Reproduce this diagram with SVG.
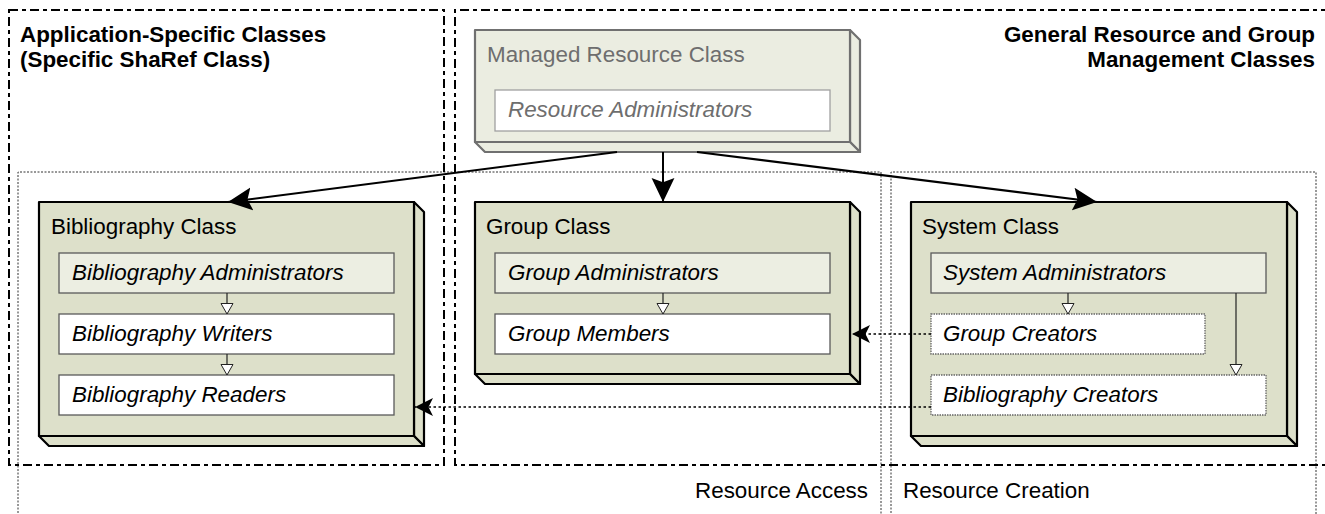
<svg xmlns="http://www.w3.org/2000/svg" width="1325" height="514" viewBox="0 0 1325 514">
  <style>
    text { font-family: "Liberation Sans", Arial, sans-serif; font-size: 22.4px; fill: #000; }
    .head { font-weight: bold; }
    .role { font-style: italic; }
    .muted { fill: #6e6e6e; }
    .zone { fill: none; stroke: #000; stroke-width: 2; stroke-dasharray: 9 4 4 4; }
    .lane { fill: none; stroke: #333; stroke-width: 1; stroke-dasharray: 2 1.5; }
    .face { fill: #dde0ca; stroke: #000; stroke-width: 2.2; stroke-linejoin: round; }
    .face-soft { fill: #ebede1; stroke: #707070; stroke-width: 2.2; stroke-linejoin: round; }
    .box-admin { fill: #eceee2; stroke: #5a5a5a; stroke-width: 1.3; }
    .box-plain { fill: #fff; stroke: #5a5a5a; stroke-width: 1.3; }
    .box-soft { fill: #fff; stroke: #a0a0a0; stroke-width: 1.3; }
    .box-dot { fill: #fff; stroke: #666; stroke-width: 1.3; stroke-dasharray: 1.5 1; }
    .assoc { fill: none; stroke: #000; stroke-width: 2; }
    .dep { fill: none; stroke: #000; stroke-width: 1.6; stroke-dasharray: 2.5 2.5; }
    .inherit { fill: none; stroke: #222; stroke-width: 1.2; }
  </style>
  <defs>
    <marker id="solidHead" markerUnits="userSpaceOnUse" markerWidth="24" markerHeight="24" viewBox="0 0 22 22" refX="22" refY="11" orient="auto">
      <path d="M0,0.5 L22,11 L0,21.5 L4,11 Z" fill="#000"/>
    </marker>
    <marker id="depHead" markerUnits="userSpaceOnUse" markerWidth="18" markerHeight="18" viewBox="0 0 16 16" refX="16" refY="8" orient="auto">
      <path d="M0,0 L16,8 L0,16 L4,8 Z" fill="#000"/>
    </marker>
    <marker id="openHead" markerUnits="userSpaceOnUse" markerWidth="14" markerHeight="14" viewBox="0 0 12 14" refX="11" refY="6.5" orient="auto">
      <path d="M0.5,0.5 L11,6.5 L0.5,12.5 Z" fill="#fff" stroke="#222" stroke-width="1"/>
    </marker>
  </defs>

  <!-- lanes: resource access / resource creation -->
  <g id="lanes">
    <path class="lane" d="M18,520 V172 H881 V520"/>
    <path class="lane" d="M891,520 V172 H1316 V520"/>
    <text x="868" y="498" text-anchor="end">Resource Access</text>
    <text x="903" y="498">Resource Creation</text>
  </g>

  <!-- package zones -->
  <g id="zone-application">
    <rect class="zone" x="9" y="10" width="435" height="455"/>
    <text class="head" x="20" y="42">Application-Specific Classes</text>
    <text class="head" x="20" y="67">(Specific ShaRef Class)</text>
  </g>
  <g id="zone-general">
    <path class="zone" d="M1330,10 H455 V465 H1330"/>
    <text class="head" x="1315" y="42" text-anchor="end">General Resource and Group</text>
    <text class="head" x="1315" y="67" text-anchor="end">Management Classes</text>
  </g>

  <!-- managed resource class -->
  <g id="managed-resource">
    <path class="face-soft" d="M850,30 L860,40 L860,152 L850,142 Z"/>
    <path class="face-soft" d="M475,142 L850,142 L860,152 L485,152 Z"/>
    <rect class="face-soft" x="475" y="30" width="375" height="112"/>
    <text class="muted" x="487" y="62">Managed Resource Class</text>
    <rect class="box-soft" x="495" y="90" width="335" height="41"/>
    <text class="role muted" x="508" y="117">Resource Administrators</text>
  </g>

  <!-- bibliography class -->
  <g id="bibliography">
    <path class="face" d="M414,202 L424,212 L424,446 L414,436 Z"/>
    <path class="face" d="M39,436 L414,436 L424,446 L49,446 Z"/>
    <rect class="face" x="39" y="202" width="375" height="234"/>
    <text x="51" y="234">Bibliography Class</text>
    <rect class="box-admin" x="59" y="253" width="335" height="40"/>
    <text class="role" x="72" y="280">Bibliography Administrators</text>
    <rect class="box-plain" x="59" y="314" width="335" height="40"/>
    <text class="role" x="72" y="341">Bibliography Writers</text>
    <rect class="box-plain" x="59" y="375" width="335" height="40"/>
    <text class="role" x="72" y="402">Bibliography Readers</text>
  </g>

  <!-- group class -->
  <g id="group">
    <path class="face" d="M850,202 L860,212 L860,384 L850,374 Z"/>
    <path class="face" d="M475,374 L850,374 L860,384 L485,384 Z"/>
    <rect class="face" x="475" y="202" width="375" height="172"/>
    <text x="486" y="234">Group Class</text>
    <rect class="box-admin" x="495" y="253" width="335" height="40"/>
    <text class="role" x="508" y="280">Group Administrators</text>
    <rect class="box-plain" x="495" y="314" width="335" height="40"/>
    <text class="role" x="508" y="341">Group Members</text>
  </g>

  <!-- system class -->
  <g id="system">
    <path class="face" d="M1287,202 L1297,212 L1297,446 L1287,436 Z"/>
    <path class="face" d="M911,436 L1287,436 L1297,446 L921,446 Z"/>
    <rect class="face" x="911" y="202" width="376" height="234"/>
    <text x="922" y="234">System Class</text>
    <rect class="box-admin" x="931" y="253" width="335" height="40"/>
    <text class="role" x="943" y="280">System Administrators</text>
    <rect class="box-dot" x="931" y="314" width="274" height="40"/>
    <text class="role" x="943" y="341">Group Creators</text>
    <rect class="box-dot" x="931" y="375" width="335" height="40"/>
    <text class="role" x="943" y="402">Bibliography Creators</text>
  </g>

  <!-- connectors -->
  <g id="connectors">
    <path class="assoc" d="M617,152 L228,202" marker-end="url(#solidHead)"/>
    <path class="assoc" d="M663,152 L663,202" marker-end="url(#solidHead)"/>
    <path class="assoc" d="M697,152 L1097,202" marker-end="url(#solidHead)"/>

    <path class="inherit" d="M227,293 V314" marker-end="url(#openHead)"/>
    <path class="inherit" d="M227,354 V375" marker-end="url(#openHead)"/>
    <path class="inherit" d="M663,293 V314" marker-end="url(#openHead)"/>
    <path class="inherit" d="M1068,293 V314" marker-end="url(#openHead)"/>
    <path class="inherit" d="M1236,293 V375" marker-end="url(#openHead)"/>

    <path class="dep" d="M931,334 H852" marker-end="url(#depHead)"/>
    <path class="dep" d="M931,407 H415" marker-end="url(#depHead)"/>
  </g>
</svg>
